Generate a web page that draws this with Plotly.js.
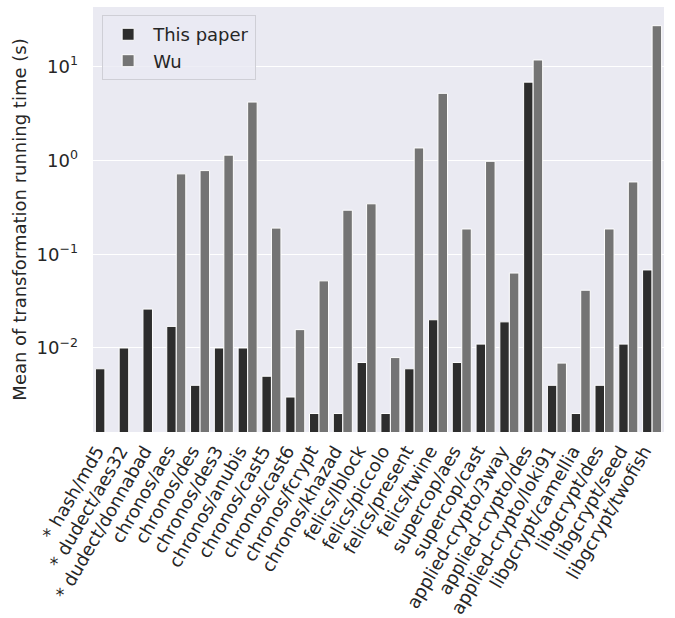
<!DOCTYPE html>
<html><head><meta charset="utf-8">
<script src="https://cdn.plot.ly/plotly-3.0.1.min.js"></script>
<style>body{margin:0;background:#fff}#c{width:675px;height:618px}</style>
</head><body><div id="c"></div>
<script>
const categories = ["* hash/md5","* dudect/aes32","* dudect/donnabad","chronos/aes","chronos/des","chronos/des3","chronos/anubis","chronos/cast5","chronos/cast6","chronos/fcrypt","chronos/khazad","felics/lblock","felics/piccolo","felics/present","felics/twine","supercop/aes","supercop/cast","applied-crypto/3way","applied-crypto/des","applied-crypto/loki91","libgcrypt/camellia","libgcrypt/des","libgcrypt/seed","libgcrypt/twofish"];
const thisPaper = [0.006,0.010,0.026,0.017,0.004,0.010,0.010,0.005,0.003,0.002,0.002,0.007,0.002,0.006,0.020,0.007,0.011,0.019,6.85,0.004,0.002,0.004,0.011,0.068];
const wu = [null,null,null,0.72,0.78,1.14,4.2,0.19,0.0157,0.052,0.295,0.345,0.0079,1.36,5.2,0.186,0.98,0.063,11.8,0.0069,0.0413,0.186,0.59,27.4];
const yTickVals = [0.01,0.1,1,10];
const yTickText = ["10<sup>−2</sup>","10<sup>−1</sup>","10<sup>0</sup>","10<sup>1</sup>"];

const traces = [
  {type:'bar', name:'This paper', x:categories, y:thisPaper,
   marker:{color:'#2d2d2d', line:{color:'#ffffff', width:1}}},
  {type:'bar', name:'Wu', x:categories, y:wu,
   marker:{color:'#747474', line:{color:'#ffffff', width:1}}}
];
const layout = {
  width:675, height:618,
  margin:{l:93, r:11, t:7, b:186},
  paper_bgcolor:'#ffffff', plot_bgcolor:'#eaeaf2',
  font:{family:'DejaVu Sans, sans-serif', size:18, color:'#262626'},
  barmode:'group', bargap:0.2, bargroupgap:0,
  showlegend:true,
  legend:{x:0.016, y:0.981, xanchor:'left', yanchor:'top', bgcolor:'rgba(234,234,242,0.8)',
          bordercolor:'#cfcfd6', borderwidth:1, font:{size:18}, tracegroupgap:0, itemwidth:40},
  xaxis:{type:'category', tickangle:-60, showgrid:false, ticks:'', tickfont:{size:18},
         zeroline:false, showline:false, automargin:false, ticklabelshift:-8, ticklabelstandoff:4},
  yaxis:{type:'log', range:[-2.896, 1.637], tickvals:yTickVals, ticktext:yTickText,
         showgrid:true, gridcolor:'#ffffff', gridwidth:1, zeroline:false, showline:false,
         ticks:'', tickfont:{size:18}, automargin:false, ticklabelstandoff:14,
         title:{text:'Mean of transformation running time (s)', font:{size:18}, standoff:5}}
};
Plotly.newPlot('c', traces, layout, {displayModeBar:false, staticPlot:true});
</script></body></html>
